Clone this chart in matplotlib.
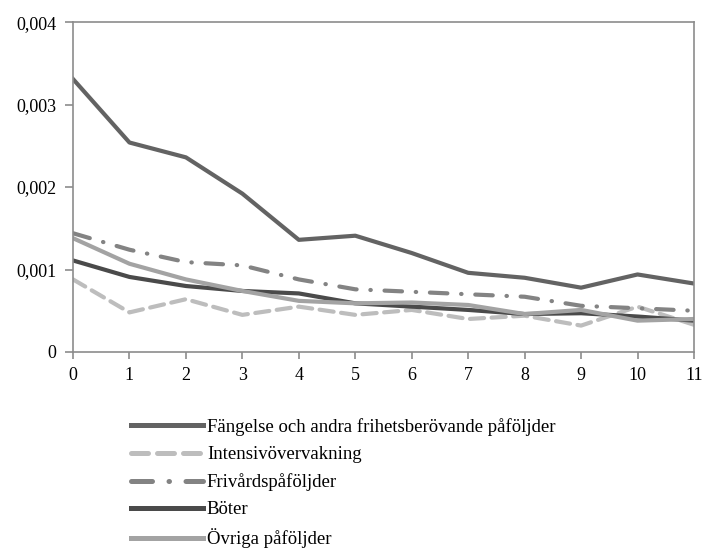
import matplotlib.pyplot as plt
from matplotlib.ticker import FuncFormatter

plt.rcParams['font.family'] = ['Liberation Serif', 'DejaVu Serif']

# data
years = list(range(12))
fangelse = [3.31, 2.54, 2.36, 1.92, 1.36, 1.41, 1.20, 0.96, 0.90, 0.78, 0.94, 0.83]
intensiv = [0.88, 0.48, 0.64, 0.45, 0.55, 0.45, 0.51, 0.40, 0.44, 0.32, 0.55, 0.33]
frivard = [1.44, 1.24, 1.09, 1.05, 0.88, 0.76, 0.73, 0.70, 0.67, 0.56, 0.53, 0.50]
boter = [1.11, 0.91, 0.80, 0.74, 0.71, 0.59, 0.55, 0.51, 0.46, 0.47, 0.43, 0.38]
ovriga = [1.38, 1.07, 0.88, 0.74, 0.62, 0.59, 0.60, 0.57, 0.46, 0.51, 0.38, 0.40]
labels = ['Fängelse och andra frihetsberövande påföljder', 'Intensivövervakning',
          'Frivårdspåföljder', 'Böter', 'Övriga påföljder']

fig = plt.figure(figsize=(7.04, 5.53), dpi=100)
ax = fig.add_axes([0.1037, 0.3635, 0.8821, 0.5965])

lw = 3
scale = lambda v: [x / 1000 for x in v]
ax.plot(years, scale(fangelse), color='#636363', lw=lw, label=labels[0])
ax.plot(years, scale(intensiv), color='#bdbdbd', lw=lw, label=labels[1],
        dashes=(3.4, 1.8), dash_capstyle='round')
ax.plot(years, scale(frivard), color='#838383', lw=lw, label=labels[2],
        dashes=(4.2, 3.3, 0.1, 3.3), dash_capstyle='round')
ax.plot(years, scale(boter), color='#4a4a4a', lw=lw, label=labels[3])
ax.plot(years, scale(ovriga), color='#a3a3a3', lw=lw, label=labels[4])

ax.set_xlim(0, 11)
ax.set_ylim(0, 0.004)
ax.set_xticks(years)
ax.set_yticks([0, 0.001, 0.002, 0.003, 0.004])
ax.yaxis.set_major_formatter(FuncFormatter(lambda v, p: '0' if v == 0 else f'{v:.3f}'.replace('.', ',')))
for s in ax.spines.values():
    s.set_color('#8c8c8c')
    s.set_linewidth(1.2)
ax.tick_params(colors='#8c8c8c', labelcolor='black', labelsize=13, length=6, width=1.2)
ax.tick_params(axis='y', pad=6)
ax.tick_params(axis='x', length=5, pad=6)

leg = fig.legend(loc='upper left', bbox_to_anchor=(0.186, 0.244), frameon=False,
                 fontsize=13.5, handlelength=3.84, handletextpad=0.21, labelspacing=0.54,
                 borderaxespad=0, borderpad=0)
for h in leg.get_lines():
    h.set_linewidth(3.6)

fig.savefig('out.png', dpi=100)
